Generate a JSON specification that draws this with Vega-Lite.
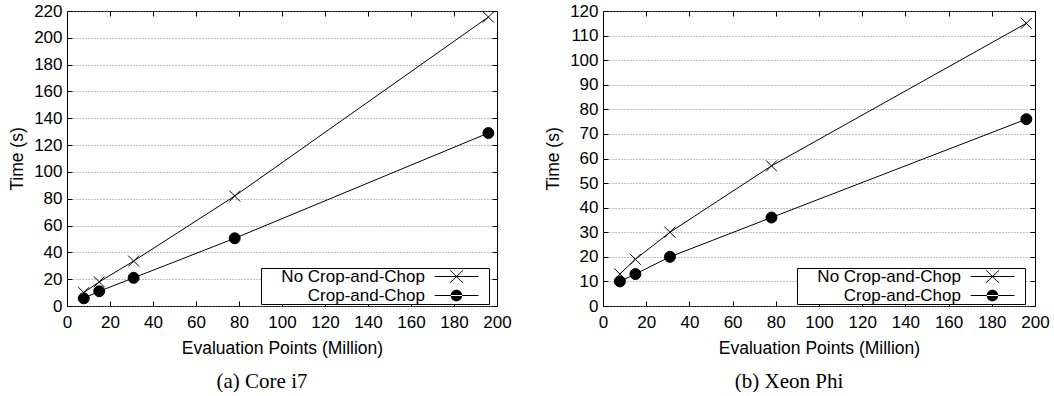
{
  "$schema": "https://vega.github.io/schema/vega-lite/v6.json",
  "padding": {"left": 8, "top": 1, "right": 0, "bottom": 0},
  "background": "white",
  "spacing": 32,
  "config": {
    "font": "Liberation Sans",
    "view": {"stroke": "black", "strokeWidth": 1},
    "axis": {
      "labelFont": "Liberation Sans", "labelFontSize": 17, "labelColor": "black",
      "titleFont": "Liberation Sans", "titleFontSize": 17.5, "titleFontWeight": "normal", "titleColor": "black",
      "tickColor": "black", "tickSize": -5, "domain": false, "labelFlush": false
    },
    "legend": {
      "orient": "none", "legendX": 194, "legendY": 257, "title": null,
      "strokeColor": "black", "fillColor": "white", "padding": 0, "rowPadding": 0,
      "labelFont": "Liberation Sans", "labelFontSize": 17, "labelColor": "black",
      "labelAlign": "right", "labelOffset": -40, "symbolOffset": 187,
      "symbolSize": 120, "symbolFillColor": "black", "symbolStrokeColor": "black", "symbolStrokeWidth": 1, "symbolOpacity": 1
    }
  },
  "resolve": {"scale": {"shape": "independent"}, "legend": {"shape": "independent"}},
  "datasets": {
    "i7": [
      {"points": 7.8, "time": 10, "series": "No Crop-and-Chop"},
      {"points": 15, "time": 18, "series": "No Crop-and-Chop"},
      {"points": 31, "time": 33.5, "series": "No Crop-and-Chop"},
      {"points": 78, "time": 82, "series": "No Crop-and-Chop"},
      {"points": 196, "time": 215.5, "series": "No Crop-and-Chop"},
      {"points": 7.8, "time": 5.7, "series": "Crop-and-Chop"},
      {"points": 15, "time": 11, "series": "Crop-and-Chop"},
      {"points": 31, "time": 21, "series": "Crop-and-Chop"},
      {"points": 78, "time": 50.5, "series": "Crop-and-Chop"},
      {"points": 196, "time": 129, "series": "Crop-and-Chop"}
    ],
    "phi": [
      {"points": 7.8, "time": 13, "series": "No Crop-and-Chop"},
      {"points": 15, "time": 19, "series": "No Crop-and-Chop"},
      {"points": 31, "time": 30, "series": "No Crop-and-Chop"},
      {"points": 78, "time": 57, "series": "No Crop-and-Chop"},
      {"points": 196, "time": 115, "series": "No Crop-and-Chop"},
      {"points": 7.8, "time": 10, "series": "Crop-and-Chop"},
      {"points": 15, "time": 13, "series": "Crop-and-Chop"},
      {"points": 31, "time": 20, "series": "Crop-and-Chop"},
      {"points": 78, "time": 36, "series": "Crop-and-Chop"},
      {"points": 196, "time": 76, "series": "Crop-and-Chop"}
    ]
  },
  "hconcat": [
    {
      "width": 430, "height": 295,
      "data": {"name": "i7"},
      "title": {"text": "(a) Core i7", "orient": "bottom", "font": "Liberation Serif", "fontSize": 21, "fontWeight": "normal", "color": "black", "dx": -20, "offset": 14},
      "layer": [
        {
          "mark": {"type": "line", "color": "black", "strokeWidth": 1},
          "encoding": {
            "x": {"field": "points", "type": "quantitative", "scale": {"domain": [0, 200], "nice": false},
                  "axis": {"orient": "bottom", "values": [0,20,40,60,80,100,120,140,160,180,200], "title": "Evaluation Points (Million)", "labelPadding": 13, "titlePadding": 9, "grid": false}},
            "y": {"field": "time", "type": "quantitative", "scale": {"domain": [0, 220], "nice": false},
                  "axis": {"orient": "left", "values": [0,20,40,60,80,100,120,140,160,180,200,220], "title": "Time (s)", "labelPadding": 10, "titlePadding": 7, "grid": true, "gridDash": [1,2], "gridColor": "#808080"}},
            "detail": {"field": "series"}
          }
        },
        {
          "mark": {"type": "point", "filled": true, "fill": "black", "stroke": "black", "strokeWidth": 1, "size": 120, "opacity": 1},
          "encoding": {
            "x": {"field": "points", "type": "quantitative", "axis": null},
            "y": {"field": "time", "type": "quantitative", "axis": null},
            "shape": {"field": "series", "type": "nominal", "legend": null,
              "scale": {"domain": ["No Crop-and-Chop", "Crop-and-Chop"], "range": ["M-1,-1L1,1M-1,1L1,-1", "circle"]}}
          }
        },
        {
          "mark": {"type": "point", "filled": true, "fill": "black", "stroke": "black", "strokeWidth": 1, "opacity": 0},
          "encoding": {
            "x": {"field": "points", "type": "quantitative", "axis": {"orient": "top", "values": [0,20,40,60,80,100,120,140,160,180,200], "labels": false, "title": null, "grid": false}},
            "y": {"field": "time", "type": "quantitative", "axis": {"orient": "right", "values": [0,20,40,60,80,100,120,140,160,180,200,220], "labels": false, "title": null, "grid": false}},
            "shape": {"field": "series", "type": "nominal",
              "scale": {"domain": ["No Crop-and-Chop", "Crop-and-Chop"], "range": [
                "M-4,-0.09H4V0.09H-4ZM-1.2,-1.1L-1.1,-1.2L1.2,1.1L1.1,1.2ZM1.1,-1.2L1.2,-1.1L-1.1,1.2L-1.2,1.1ZM5.5,-0.01h0.01v0.02h-0.01Z",
                "M-4,-0.09H4V0.09H-4ZM-1.05,0A1.05,1.05,0,1,0,1.05,0A1.05,1.05,0,1,0,-1.05,0ZM5.5,-0.01h0.01v0.02h-0.01Z"]},
              "legend": {"values": ["No Crop-and-Chop", "Crop-and-Chop"]}}
          }
        }
      ],
      "resolve": {"axis": {"x": "independent", "y": "independent"}, "scale": {"shape": "independent"}, "legend": {"shape": "independent"}}
    },
    {
      "width": 432, "height": 295,
      "data": {"name": "phi"},
      "title": {"text": "(b) Xeon Phi", "orient": "bottom", "font": "Liberation Serif", "fontSize": 21, "fontWeight": "normal", "color": "black", "dx": -30, "offset": 14},
      "layer": [
        {
          "mark": {"type": "line", "color": "black", "strokeWidth": 1},
          "encoding": {
            "x": {"field": "points", "type": "quantitative", "scale": {"domain": [0, 200], "nice": false},
                  "axis": {"orient": "bottom", "values": [0,20,40,60,80,100,120,140,160,180,200], "title": "Evaluation Points (Million)", "labelPadding": 13, "titlePadding": 9, "grid": false}},
            "y": {"field": "time", "type": "quantitative", "scale": {"domain": [0, 120], "nice": false},
                  "axis": {"orient": "left", "values": [0,10,20,30,40,50,60,70,80,90,100,110,120], "title": "Time (s)", "labelPadding": 10, "titlePadding": 7, "grid": true, "gridDash": [1,2], "gridColor": "#808080"}},
            "detail": {"field": "series"}
          }
        },
        {
          "mark": {"type": "point", "filled": true, "fill": "black", "stroke": "black", "strokeWidth": 1, "size": 120, "opacity": 1},
          "encoding": {
            "x": {"field": "points", "type": "quantitative", "axis": null},
            "y": {"field": "time", "type": "quantitative", "axis": null},
            "shape": {"field": "series", "type": "nominal", "legend": null,
              "scale": {"domain": ["No Crop-and-Chop", "Crop-and-Chop"], "range": ["M-1,-1L1,1M-1,1L1,-1", "circle"]}}
          }
        },
        {
          "mark": {"type": "point", "filled": true, "fill": "black", "stroke": "black", "strokeWidth": 1, "opacity": 0},
          "encoding": {
            "x": {"field": "points", "type": "quantitative", "axis": {"orient": "top", "values": [0,20,40,60,80,100,120,140,160,180,200], "labels": false, "title": null, "grid": false}},
            "y": {"field": "time", "type": "quantitative", "axis": {"orient": "right", "values": [0,10,20,30,40,50,60,70,80,90,100,110,120], "labels": false, "title": null, "grid": false}},
            "shape": {"field": "series", "type": "nominal",
              "scale": {"domain": ["No Crop-and-Chop", "Crop-and-Chop"], "range": [
                "M-4,-0.09H4V0.09H-4ZM-1.2,-1.1L-1.1,-1.2L1.2,1.1L1.1,1.2ZM1.1,-1.2L1.2,-1.1L-1.1,1.2L-1.2,1.1ZM5.5,-0.01h0.01v0.02h-0.01Z",
                "M-4,-0.09H4V0.09H-4ZM-1.05,0A1.05,1.05,0,1,0,1.05,0A1.05,1.05,0,1,0,-1.05,0ZM5.5,-0.01h0.01v0.02h-0.01Z"]},
              "legend": {"values": ["No Crop-and-Chop", "Crop-and-Chop"]}}
          }
        }
      ],
      "resolve": {"axis": {"x": "independent", "y": "independent"}, "scale": {"shape": "independent"}, "legend": {"shape": "independent"}}
    }
  ]
}
